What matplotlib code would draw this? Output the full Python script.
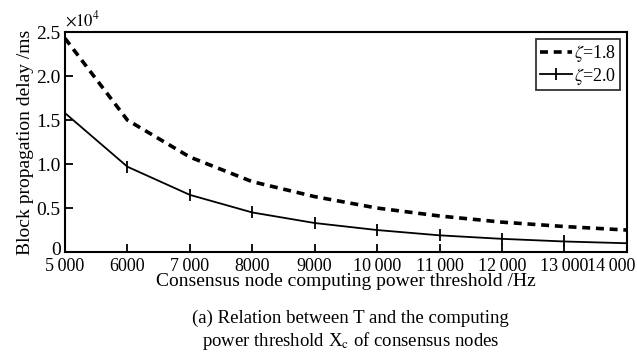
import numpy as np
import matplotlib
matplotlib.use('Agg')
import matplotlib.pyplot as plt
import matplotlib.transforms as mtransforms

plt.rcParams['font.family'] = ['Liberation Serif', 'DejaVu Serif']
plt.rcParams['mathtext.fontset'] = 'stix'

threshold = [5000, 6000, 7000, 8000, 9000, 10000, 11000, 12000, 13000, 14000]
delay_18 = [2.43, 1.50, 1.08, 0.80, 0.63, 0.50, 0.41, 0.34, 0.29, 0.25]  # x1e4 ms
delay_20 = [1.58, 0.97, 0.65, 0.45, 0.33, 0.25, 0.19, 0.15, 0.12, 0.10]
xtick_labels = ['5\u2009000', '6000', '7\u2009000', '8000', '9000', '10\u2009000',
                '11\u2009000', '12\u2009000', '13\u2009000', '14\u2009000']
ytick_vals = [0, 0.5, 1.0, 1.5, 2.0, 2.5]
ytick_labels = ['0', '0.5', '1.0', '1.5', '2.0', '2.5']

fig = plt.figure(figsize=(6.37, 3.57), dpi=100)
ax = fig.add_axes([0.102, 0.294, 0.882, 0.616])

ax.plot(threshold, delay_18, '--', color='black', linewidth=2.6,
        dashes=(2.2, 1.6), label=r'$\zeta$=1.8')
ax.plot(threshold, delay_20, '-', color='black', linewidth=1.3,
        marker='|', markersize=9, markeredgewidth=1.3, label=r'$\zeta$=2.0')

ax.set_xlim(5000, 14000)
ax.set_ylim(0, 2.5)
ax.set_xticks(threshold)
ax.set_xticklabels(xtick_labels)
ax.set_yticks(ytick_vals)
ax.set_yticklabels(ytick_labels)
ax.tick_params(direction='in', length=6, width=1.3, labelsize=14)
ax.tick_params(axis='x', labelsize=13, pad=4)
ax.tick_params(axis='y', pad=3)
for s in ax.spines.values():
    s.set_linewidth(1.5)

# keep the last x label inside the figure, lift the "0" a little
last = ax.get_xticklabels()[-1]
last.set_ha('right')
last.set_transform(last.get_transform() +
                   mtransforms.ScaledTranslation(9/100, 0, fig.dpi_scale_trans))
zero = ax.get_yticklabels()[0]
zero.set_transform(zero.get_transform() +
                   mtransforms.ScaledTranslation(0, 4/100, fig.dpi_scale_trans))

ax.text(0.0, 1.01, r'$\times 10^4$', transform=ax.transAxes, fontsize=12,
        ha='left', va='bottom')
ax.set_ylabel('Block propagation delay /ms', fontsize=14, labelpad=2)
ax.set_xlabel('Consensus node computing power threshold /Hz', fontsize=14, labelpad=-1)

leg = ax.legend(loc='upper right', fontsize=13, frameon=True, fancybox=False,
                edgecolor='black', handlelength=1.8, handletextpad=0.1,
                borderpad=0.2, labelspacing=0.1, borderaxespad=0.4)
leg.get_frame().set_linewidth(1.3)

fig.text(0.55, 0.085, '(a) Relation between T and the computing', ha='center',
         va='bottom', fontsize=13.5)
fig.text(0.55, 0.015, r'power threshold X$_\mathrm{c}$ of consensus nodes', ha='center',
         va='bottom', fontsize=13.5)

fig.savefig('out.png', dpi=100)
